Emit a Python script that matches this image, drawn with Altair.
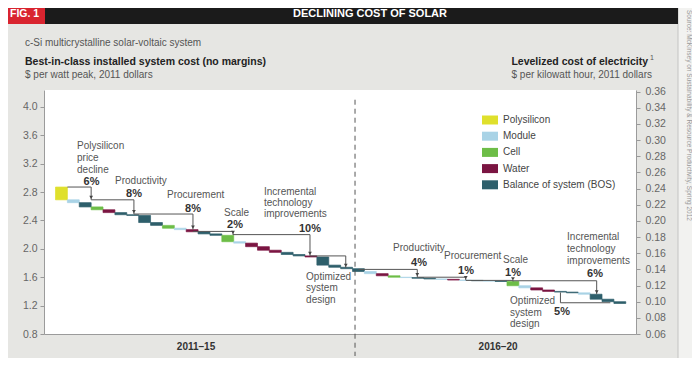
import altair as alt
import pandas as pd

FONT = "Liberation Sans Narrow, Arial Narrow, Liberation Sans, sans-serif"

# ---------------- data ----------------
categories = ["Polysilicon", "Module", "Cell", "Water", "Balance of system (BOS)"]
category_codes = ["P", "M", "C", "W", "B"]
category_colors = ["#dfe02c", "#a9d3e6", "#6dbd47", "#7b1542", "#2e5f6b"]

start_level = 2.87
bar_code = ["P", "M", "B", "C", "W", "B", "B", "B", "B", "C", "M", "W", "B", "B", "C",
            "M", "W", "W", "W", "B", "B", "W", "B", "B", "B",
            "B", "M", "W", "C", "M", "B", "B", "M", "W", "M", "B", "M", "B", "C",
            "M", "W", "W", "B", "B", "M", "B", "B", "B"]
bar_end = [2.69, 2.65, 2.59, 2.55, 2.51, 2.48, 2.47, 2.37, 2.33, 2.29,
           2.27, 2.24, 2.21, 2.19, 2.10, 2.08, 2.03, 1.98, 1.95, 1.92,
           1.90, 1.885, 1.77, 1.74, 1.72,
           1.68, 1.65, 1.62, 1.60, 1.595, 1.585, 1.575, 1.57, 1.56, 1.555,
           1.55, 1.545, 1.54, 1.48, 1.45, 1.42, 1.40, 1.39, 1.38, 1.36,
           1.29, 1.255, 1.23]

left_ticks = [0.8, 1.2, 1.6, 2.0, 2.4, 2.8, 3.2, 3.6, 4.0]
right_ticks = [0.06, 0.08, 0.10, 0.12, 0.14, 0.16, 0.18, 0.20, 0.22, 0.24,
               0.26, 0.28, 0.30, 0.32, 0.34, 0.36]

# bracket paths (bar-index units, $/Wp)
bracket_paths = [
    [(1.0, 2.87), (3.0, 2.87), (3.0, 2.69)],
    [(3.0, 2.69), (6.6, 2.69), (6.6, 2.49)],
    [(6.6, 2.49), (11.57, 2.49), (11.57, 2.27)],
    [(11.57, 2.245), (14.94, 2.245), (14.94, 2.195)],
    [(14.94, 2.20), (21.42, 2.20), (21.42, 1.90)],
    [(21.42, 1.90), (24.43, 1.90), (24.43, 1.73)],
    [(25.5, 1.71), (30.45, 1.71), (30.45, 1.60)],
    [(30.45, 1.60), (34.53, 1.60), (34.53, 1.56)],
    [(34.53, 1.555), (38.5, 1.555), (38.5, 1.54)],
    [(38.5, 1.55), (45.55, 1.55), (45.55, 1.36)],
    [(42.5, 1.385), (42.5, 1.24), (46.7, 1.24)],
]
arrow_brackets = [0, 1, 2, 3, 4, 5, 6, 7, 8, 9]

ann_text = ["Polysilicon", "price", "decline", "Productivity", "Procurement", "Scale",
            "Incremental", "technology", "improvements", "Optimized", "system", "design",
            "Productivity", "Procurement", "Scale", "Incremental", "technology",
            "improvements", "Optimized", "system", "design"]
ann_x = [1.81, 1.81, 1.81, 5.01, 9.39, 14.18, 17.55, 17.55, 17.55, 21.09, 21.09, 21.09,
         28.41, 32.70, 37.67, 43.06, 43.06, 43.06, 38.26, 38.26, 38.26]
ann_y = [3.448, 3.279, 3.110, 2.955, 2.758, 2.504, 2.80, 2.645, 2.49, 1.603, 1.441, 1.279,
         2.011, 1.899, 1.842, 2.166, 1.997, 1.832, 1.269, 1.10, 0.941]

pct_text = ["6%", "8%", "8%", "2%", "10%", "4%", "1%", "1%", "6%", "5%"]
pct_x = [3.03, 6.61, 11.57, 15.11, 21.42, 30.60, 34.55, 38.51, 45.41, 42.63]
pct_y = [2.941, 2.772, 2.561, 2.335, 2.279, 1.804, 1.687, 1.663, 1.645, 1.11]

period_text = ["2011\u201315", "2016\u201320"]
period_x = [11.83, 37.25]
period_y = [0.617, 0.617]

divider_x = [25.21]
divider_y = [4.1]
divider_y2 = [0.49]

# ---------------- scales ----------------
X_DOMAIN = [-0.968, 48.86]
Y_DOMAIN = [0.8, 4.237]
R_DOMAIN = [0.06, 0.362]

xscale = alt.Scale(domain=X_DOMAIN, nice=False, zero=False)
yscale = alt.Scale(domain=Y_DOMAIN, nice=False, zero=False)
xaxis = alt.Axis(title=None, labels=False, ticks=False, grid=False,
                 domainColor="#9b9b9b", domainWidth=1)
yaxis = alt.Axis(title=None, values=left_ticks, format=".1f", grid=False,
                 labelColor="#666666", labelFontSize=10.5, labelFont=FONT,
                 tickColor="#999999", tickSize=4, labelPadding=3,
                 domainColor="#9b9b9b")
raxis = alt.Axis(title=None, orient="right", values=right_ticks, format=".2f",
                 grid=False, labelColor="#666666", labelFontSize=10.5, labelFont=FONT,
                 tickColor="#999999", tickSize=4, labelPadding=5,
                 domainColor="#9b9b9b")


def X(f):
    return alt.X(f, type="quantitative", scale=xscale, axis=xaxis)


def Y(f):
    return alt.Y(f, type="quantitative", scale=yscale, axis=yaxis)


code_to_name = dict(zip(category_codes, categories))
rows = []
prev = start_level
for i, (c, e) in enumerate(zip(bar_code, bar_end)):
    rows.append({"x0": i, "x1": i + 1, "y0": prev, "y1": e, "cat": code_to_name[c]})
    prev = e
bars_df = pd.DataFrame(rows)

cscale = alt.Scale(domain=categories, range=category_colors)
bars = alt.Chart(bars_df).mark_rect(strokeWidth=0.7).encode(
    x=X("x0"), x2="x1", y=Y("y0"), y2="y1",
    color=alt.Color("cat:N", scale=cscale, legend=None),
    stroke=alt.Stroke("cat:N", scale=cscale, legend=None),
)

br_rows = []
for bid, pts in enumerate(bracket_paths):
    for k, (bx, by) in enumerate(pts):
        br_rows.append({"id": bid, "k": k, "x": bx, "y": by})
lines = alt.Chart(pd.DataFrame(br_rows)).mark_line(color="#555555", strokeWidth=1).encode(
    x=X("x"), y=Y("y"), detail="id:N", order="k:Q")

arrow_df = pd.DataFrame({
    "x": [bracket_paths[b][-1][0] for b in arrow_brackets],
    "y": [bracket_paths[b][-1][1] + 0.035 for b in arrow_brackets],
})
arrows = alt.Chart(arrow_df).mark_point(shape="triangle-down", filled=True, size=14,
                                         color="#444444", opacity=1).encode(x=X("x"), y=Y("y"))

ann = alt.Chart(pd.DataFrame({"t": ann_text, "x": ann_x, "y": ann_y})).mark_text(
    align="left", baseline="middle", font=FONT, fontSize=10, color="#555555").encode(
    x=X("x"), y=Y("y"), text="t:N")

pct = alt.Chart(pd.DataFrame({"t": pct_text, "x": pct_x, "y": pct_y})).mark_text(
    align="center", baseline="middle", font=FONT, fontSize=11, fontWeight="bold",
    color="#333333").encode(x=X("x"), y=Y("y"), text="t:N")

periods = alt.Chart(pd.DataFrame({"t": period_text, "x": period_x, "y": period_y})).mark_text(
    align="center", baseline="middle", font=FONT, fontSize=10, fontWeight="bold",
    color="#333333").encode(x=X("x"), y=Y("y"), text="t:N")

divider = alt.Chart(pd.DataFrame({"x": divider_x, "y": divider_y, "y2": divider_y2})).mark_rule(
    color="#555555", strokeWidth=1, strokeDash=[5, 4]).encode(x=X("x"), y=Y("y"), y2="y2")

one = pd.DataFrame({"a": [0]})


def rect(x, x2, y, y2, color, **kw):
    return alt.Chart(one).mark_rect(color=color, **kw).encode(
        x=alt.value(x), x2=alt.value(x2), y=alt.value(y), y2=alt.value(y2))


def label(t, x, y, **kw):
    base = dict(font=FONT, fontSize=10, color="#555555", baseline="middle", align="left")
    base.update(kw)
    return alt.Chart(one).mark_text(**base).encode(
        x=alt.value(x), y=alt.value(y), text=alt.value(t))


decor = [
    rect(634, 700, -100, 300, "#f2f2f0"),
    alt.Chart(one).mark_rule(color="#c4c4c2", strokeWidth=1).encode(
        x=alt.value(634), y=alt.value(-100), y2=alt.value(300)),
    rect(1, 634, -87, -66, "#1b1b1b"),
    rect(-44, 1, -87, -66, "#d9242f"),
    label("FIG. 1", -34, -76, align="left", color="white", fontSize=10.5, fontWeight="bold"),
    label("DECLINING COST OF SOLAR", 326, -76, align="center", color="white",
          fontSize=11, fontWeight="bold"),
    label("c-Si multicrystalline solar-voltaic system", -19, -47, color="#555555"),
    label("Best-in-class installed system cost (no margins)", -19, -28, color="#222222",
          fontWeight="bold", fontSize=10.5),
    label("$ per watt peak, 2011 dollars", -19, -15, color="#555555"),
    label("Levelized cost of electricity", 604, -28, align="right", color="#222222",
          fontWeight="bold", fontSize=10.5),
    label("1", 606, -32, fontSize=7, color="#555555"),
    label("$ per kilowatt hour, 2011 dollars", 608, -15, align="right", color="#555555"),
    label("Source: McKinsey on Sustainability & Resource Productivity, Spring 2012",
          645, -80, angle=90, fontSize=6.5, color="#999999"),
]
for i, (name, col) in enumerate(zip(categories, category_colors)):
    cy = 30 + 16.2 * i
    decor.append(rect(438, 454, cy - 4.5, cy + 4.5, col))
    decor.append(label(name, 459, cy, color="#444444"))

right = alt.Chart(pd.DataFrame({"r": [0.06]})).mark_point(opacity=0).encode(
    x=alt.value(0),
    y=alt.Y("r:Q", scale=alt.Scale(domain=R_DOMAIN, nice=False, zero=False), axis=raxis))

left_layer = alt.layer(*decor, bars, lines, arrows, ann, pct, periods, divider)

chart = alt.layer(left_layer, right).resolve_scale(y="independent").properties(
    width=592, height=244,
    autosize=alt.AutoSizeParams(type="none"),
    padding={"left": 36, "top": 82, "right": 56, "bottom": 24},
    background="#e6e6e3",
).configure_view(fill="white", stroke=None)

chart.save("out.html", embed_options={"renderer": "svg", "actions": False})
